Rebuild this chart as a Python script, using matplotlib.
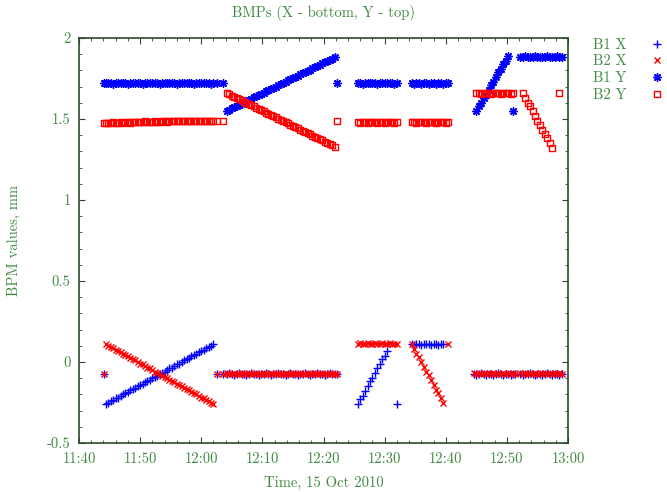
import numpy as np
import matplotlib
matplotlib.use("Agg")
import matplotlib.pyplot as plt
from matplotlib.path import Path

plt.rcParams["font.family"] = "cmr10"
plt.rcParams["axes.unicode_minus"] = False
plt.rcParams["mathtext.fontset"] = "cm"

nan = np.nan

# time in minutes after 11:40, 15 Oct 2010
t_a = [4.1, 4.4, 4.8, 5.2, 5.6, 6.0, 6.4, 6.8, 7.2, 7.6, 8.0, 8.4, 8.8, 9.2, 9.6,
       10.0, 10.4, 10.8, 11.2, 11.6, 12.0, 12.4, 12.8, 13.2, 13.6, 14.0, 14.4, 14.8,
       15.2, 15.6, 16.0, 16.4, 16.8, 17.2, 17.6, 18.0, 18.4, 18.8, 19.2, 19.6, 20.0,
       20.4, 20.8, 21.2, 21.6, 22.0, 22.5]
t_b = [23.6, 24.2, 24.6, 25.0, 25.4, 25.8, 26.2, 26.6, 27.0, 27.4, 27.8, 28.2, 28.6,
       29.0, 29.4, 29.8, 30.2, 30.6, 31.0, 31.4, 31.8, 32.2, 32.6, 33.0, 33.4, 33.8,
       34.2, 34.6, 35.0, 35.4, 35.8, 36.2, 36.6, 37.0, 37.4, 37.8, 38.2, 38.6, 39.0,
       39.4, 39.8, 40.2, 40.6, 41.0, 41.4, 41.8, 42.2]
t_c = [45.6, 46.0, 46.4, 46.8, 47.2, 47.6, 48.0, 48.4, 48.8, 49.2, 49.6, 50.0, 50.4,
       50.8, 51.2, 51.6, 52.0]
t_d = [54.4, 54.8, 55.2, 55.6, 56.0, 56.4, 56.8, 57.2, 57.6, 58.0, 58.4, 58.8, 59.2,
       59.6, 60.0, 60.4]
t_e = [64.6, 65.0, 65.4, 65.8, 66.2, 66.6, 67.0, 67.4, 67.8, 68.2, 68.6, 69.0, 69.4,
       69.8, 70.2, 70.6, 71.0, 71.4]
t_f = [72.2, 72.6, 73.0, 73.4, 73.8, 74.2, 74.6, 75.0, 75.4, 75.8, 76.2, 76.6, 77.0,
       77.4, 77.8, 78.2, 78.6, 79.0]

# B1 X
b1x_a = [-0.075,
         -0.26, -0.25, -0.24, -0.235, -0.225, -0.22, -0.21, -0.20, -0.19, -0.185,
         -0.175, -0.165, -0.16, -0.15, -0.14, -0.135, -0.125, -0.115, -0.11, -0.10,
         -0.09, -0.085, -0.075, -0.065, -0.06, -0.05, -0.04, -0.035, -0.025, -0.015,
         -0.01, 0.0, 0.01, 0.02, 0.025, 0.035, 0.045, 0.05, 0.06, 0.07,
         0.075, 0.085, 0.095, 0.10, 0.11,
         -0.075]
b1x_b = [-0.075, -0.075, -0.07, -0.075, -0.08, -0.075, -0.07, -0.075, -0.075, -0.08,
         -0.075, -0.07, -0.075, -0.075, -0.08, -0.075, -0.075, -0.07, -0.075, -0.08,
         -0.075, -0.075, -0.07, -0.075, -0.075, -0.08, -0.075, -0.07, -0.075, -0.075,
         -0.08, -0.075, -0.075, -0.07, -0.075, -0.08, -0.075, -0.075, -0.07, -0.075,
         -0.075, -0.08, -0.075, -0.07, -0.075, -0.075, -0.075]
b1x_c = [-0.26, -0.23, -0.21, -0.18, -0.15, -0.12, -0.10, -0.07, -0.04, -0.01, 0.02,
         0.04, 0.07, nan, nan, nan, -0.26]
b1x_d = [0.11, 0.105, 0.11, 0.11, 0.105, 0.11, 0.11, 0.11, 0.105, 0.11, 0.11, 0.105,
         0.11, 0.11, nan, nan]
b1x_e = [-0.075, -0.08, -0.075, -0.07, -0.075, -0.08, -0.075, -0.075, -0.08, -0.075,
         -0.07, -0.075, -0.08, -0.075, -0.075, -0.08, -0.075, -0.075]
b1x_f = [-0.075, -0.08, -0.075, -0.075, -0.07, -0.075, -0.08, -0.075, -0.075, -0.08,
         -0.075, -0.07, -0.075, -0.08, -0.075, -0.075, -0.08, -0.075]

# B2 X
b2x_a = [-0.075,
         0.11, 0.10, 0.095, 0.085, 0.075, 0.07, 0.06, 0.05, 0.045, 0.035,
         0.025, 0.02, 0.01, 0.0, -0.01, -0.015, -0.025, -0.035, -0.04, -0.05,
         -0.06, -0.065, -0.075, -0.085, -0.09, -0.10, -0.11, -0.115, -0.125, -0.135,
         -0.14, -0.15, -0.16, -0.165, -0.175, -0.185, -0.19, -0.20, -0.21, -0.22,
         -0.225, -0.235, -0.24, -0.25, -0.26,
         -0.075]
b2x_b = [-0.075, -0.07, -0.075, -0.075, -0.07, -0.075, -0.075, -0.07, -0.075, -0.075,
         -0.07, -0.075, -0.075, -0.07, -0.075, -0.075, -0.07, -0.075, -0.075, -0.07,
         -0.075, -0.075, -0.07, -0.075, -0.075, -0.07, -0.075, -0.075, -0.07, -0.075,
         -0.075, -0.07, -0.075, -0.075, -0.07, -0.075, -0.075, -0.07, -0.075, -0.075,
         -0.07, -0.075, -0.075, -0.07, -0.075, -0.075, -0.075]
b2x_c = [0.11, 0.115, 0.11, 0.11, 0.115, 0.11, 0.11, 0.115, 0.11, 0.11, 0.115, 0.11,
         0.11, 0.115, 0.11, 0.11, 0.11]
b2x_d = [0.11, 0.08, 0.05, 0.03, 0.00, -0.03, -0.06, -0.08, -0.11, -0.14, -0.17,
         -0.19, -0.22, -0.25, nan, 0.11]
b2x_e = [-0.07, -0.075, -0.07, -0.075, -0.07, -0.075, -0.07, -0.075, -0.07, -0.075,
         -0.07, -0.075, -0.07, -0.075, -0.07, -0.075, -0.07, -0.075]
b2x_f = [-0.07, -0.075, -0.07, -0.075, -0.07, -0.075, -0.07, -0.075, -0.07, -0.075,
         -0.07, -0.075, -0.07, -0.075, -0.07, -0.075, -0.07, -0.075]

# B1 Y
b1y_a = [1.72, 1.72, 1.725, 1.72, 1.715, 1.72, 1.72, 1.725, 1.72, 1.72,
         1.715, 1.72, 1.72, 1.72, 1.725, 1.72, 1.715, 1.72, 1.72, 1.72,
         1.725, 1.72, 1.72, 1.715, 1.72, 1.72, 1.72, 1.725, 1.72, 1.72,
         1.715, 1.72, 1.72, 1.72, 1.72, 1.725, 1.72, 1.715, 1.72, 1.72,
         1.72, 1.725, 1.72, 1.72, 1.715, 1.72, 1.72]
b1y_b = [1.72,
         1.550, 1.558, 1.565, 1.573, 1.580, 1.588, 1.595, 1.603, 1.610, 1.618,
         1.625, 1.633, 1.640, 1.648, 1.655, 1.663, 1.670, 1.678, 1.685, 1.693,
         1.700, 1.708, 1.715, 1.723, 1.730, 1.738, 1.745, 1.753, 1.760, 1.768,
         1.775, 1.783, 1.790, 1.798, 1.805, 1.813, 1.820, 1.828, 1.835, 1.843,
         1.850, 1.858, 1.865, 1.873, 1.880,
         1.72]
b1y_c = [1.72, 1.72, 1.715, 1.72, 1.72, 1.725, 1.72, 1.72, 1.715, 1.72, 1.72, 1.72,
         1.725, 1.72, 1.72, 1.715, 1.72]
b1y_d = [1.72, 1.715, 1.72, 1.72, 1.715, 1.72, 1.72, 1.715, 1.72, 1.72, 1.715, 1.72,
         1.72, 1.715, 1.72, 1.72]
b1y_e = [nan, 1.55, 1.58, 1.60, 1.63, 1.65, 1.68, 1.71, 1.73, 1.76, 1.79, 1.81, 1.84,
         1.86, 1.89, nan, 1.55, nan]
b1y_f = [1.885, 1.885, 1.89, 1.885, 1.885, 1.885, 1.89, 1.885, 1.885, 1.885, 1.885,
         1.89, 1.885, 1.885, 1.885, 1.89, 1.885, 1.885]

# B2 Y
b2y_a = [1.475, 1.475, 1.475, 1.475, 1.48, 1.475, 1.475, 1.48, 1.475, 1.48,
         1.48, 1.475, 1.48, 1.48, 1.48, 1.48, 1.48, 1.485, 1.48, 1.48,
         1.48, 1.485, 1.48, 1.48, 1.485, 1.485, 1.48, 1.485, 1.485, 1.485,
         1.485, 1.485, 1.485, 1.485, 1.485, 1.485, 1.49, 1.485, 1.485, 1.485,
         1.49, 1.485, 1.49, 1.49, 1.485, 1.49, 1.49]
b2y_b = [1.49,
         1.660, 1.653, 1.645, 1.638, 1.630, 1.623, 1.615, 1.608, 1.600, 1.593,
         1.585, 1.578, 1.570, 1.563, 1.555, 1.548, 1.540, 1.533, 1.525, 1.518,
         1.510, 1.503, 1.495, 1.488, 1.480, 1.473, 1.465, 1.458, 1.450, 1.443,
         1.435, 1.428, 1.420, 1.413, 1.405, 1.398, 1.390, 1.383, 1.375, 1.368,
         1.360, 1.353, 1.345, 1.338, 1.330,
         1.49]
b2y_c = [1.48, 1.475, 1.48, 1.48, 1.475, 1.48, 1.48, 1.48, 1.475, 1.48, 1.48, 1.475,
         1.48, 1.48, 1.48, 1.475, 1.48]
b2y_d = [1.48, 1.48, 1.475, 1.48, 1.48, 1.48, 1.475, 1.48, 1.48, 1.48, 1.475, 1.48,
         1.48, 1.48, 1.475, 1.48]
b2y_e = [nan, 1.66, 1.66, 1.655, 1.66, 1.66, 1.66, 1.655, 1.66, 1.66, 1.66, 1.655,
         1.66, 1.66, 1.66, 1.655, 1.66, nan]
b2y_f = [nan, 1.66, 1.63, 1.60, 1.58, 1.55, 1.52, 1.49, 1.46, 1.43, 1.41, 1.38, 1.35,
         1.32, nan, nan, 1.66, nan]

xticks = [0, 10, 20, 30, 40, 50, 60, 70, 80]
xtick_labels = ["11:40", "11:50", "12:00", "12:10", "12:20", "12:30", "12:40", "12:50", "13:00"]
yticks = [-0.5, 0, 0.5, 1, 1.5, 2]
ytick_labels = ["-0.5", "0", "0.5", "1", "1.5", "2"]

green = "#3f8a3f"
border = "#2b4a2b"

t_all = np.concatenate([t_a, t_b, t_c, t_d, t_e, t_f])
b1x = np.concatenate([b1x_a, b1x_b, b1x_c, b1x_d, b1x_e, b1x_f])
b2x = np.concatenate([b2x_a, b2x_b, b2x_c, b2x_d, b2x_e, b2x_f])
b1y = np.concatenate([b1y_a, b1y_b, b1y_c, b1y_d, b1y_e, b1y_f])
b2y = np.concatenate([b2y_a, b2y_b, b2y_c, b2y_d, b2y_e, b2y_f])

# open square with a dot in the middle, like gnuplot's pt 4
sq_verts = [(-1, -1), (1, -1), (1, 1), (-1, 1), (-1, -1),
            (-0.12, -0.12), (0.12, -0.12), (0.12, 0.12), (-0.12, 0.12), (-0.12, -0.12)]
sq_codes = [Path.MOVETO, Path.LINETO, Path.LINETO, Path.LINETO, Path.CLOSEPOLY] * 2
box_marker = Path(sq_verts, sq_codes)

fig = plt.figure(figsize=(6.67, 4.92), dpi=100)
ax = fig.add_axes([79 / 667, 49 / 492, 489 / 667, 405 / 492])

ax.plot(t_all, b1x, ls="none", marker="+", ms=5.5, mew=1.0, color="#0000ff", label="B1 X")
ax.plot(t_all, b2x, ls="none", marker="x", ms=4.5, mew=1.0, color="#ff0000", label="B2 X")
ax.plot(t_all, b1y, ls="none", marker=(8, 2, 0), ms=6, mew=1.0, color="#0000ff", label="B1 Y")
ax.plot(t_all, b2y, ls="none", marker=box_marker, ms=5, mew=1.0, mfc="none",
        color="#ff0000", label="B2 Y")

ax.set_xlim(0, 80)
ax.set_ylim(-0.5, 2)
ax.set_xticks(xticks)
ax.set_xticklabels(xtick_labels)
ax.set_xticks(np.arange(0, 81, 2), minor=True)
ax.set_yticks(yticks)
ax.set_yticklabels(ytick_labels)
ax.set_yticks(np.arange(-0.5, 2.01, 0.1), minor=True)

ax.tick_params(which="both", direction="in", top=True, right=True, colors=border,
               labelcolor=green, labelsize=10.5)
ax.tick_params(which="major", length=4.5, width=0.8)
ax.tick_params(which="minor", length=2.2, width=0.6)
ax.tick_params(axis="x", pad=7)
ax.tick_params(axis="y", pad=6)
for sp in ax.spines.values():
    sp.set_color(border)
    sp.set_linewidth(1.2)

fig.text(323.5 / 667, 1 - 13 / 492, "BMPs (X - bottom, Y - top)", ha="center", va="center",
         color=green, fontsize=10.5)
fig.text(323.5 / 667, 1 - 483 / 492, "Time, 15 Oct 2010", ha="center", va="center",
         color=green, fontsize=10.5)
fig.text(14 / 667, 1 - 240 / 492, "BPM values, mm", ha="center", va="center",
         rotation=90, color=green, fontsize=10.5)

ax.legend(loc="upper left", bbox_to_anchor=(593 / 667, 1 - 38 / 492),
          bbox_transform=fig.transFigure, frameon=False, markerfirst=False,
          handlelength=1.2, handletextpad=1.5, labelspacing=0.2, borderpad=0,
          borderaxespad=0, fontsize=10.5, labelcolor=green)

fig.savefig("out.png", dpi=100)
